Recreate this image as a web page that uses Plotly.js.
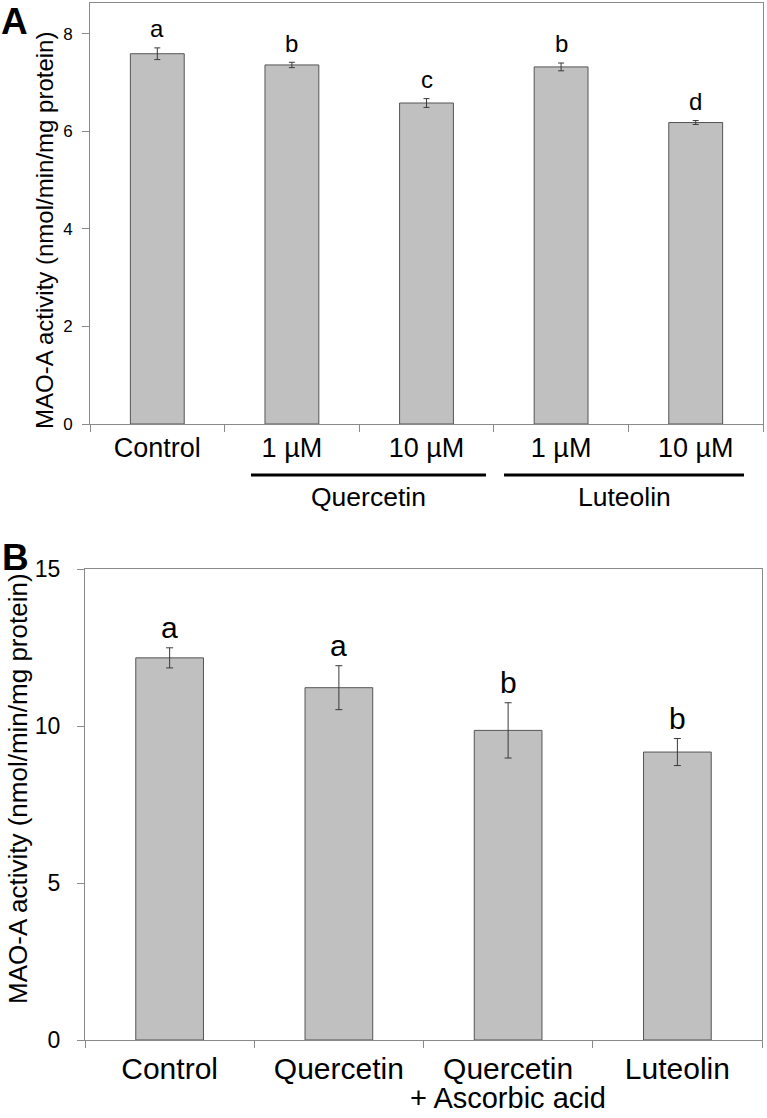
<!DOCTYPE html>
<html>
<head>
<meta charset="utf-8">
<script src="https://cdn.plot.ly/plotly-3.0.1.min.js"></script>
<style>html,body{margin:0;padding:0;background:#fff;}#chart{width:767px;height:1118px;}</style>
</head>
<body>
<div id="chart"></div>
<script>
// ---- Panel A data ----
const categoriesA = ['Control', 'Q1', 'Q10', 'L1', 'L10'];
const tickLabelsA = ['Control', '1 µM', '10 µM', '1 µM', '10 µM'];
const valuesA = [7.59, 7.36, 6.58, 7.32, 6.18];
const errorsA = [0.12, 0.055, 0.09, 0.08, 0.04];
const lettersA = ['a', 'b', 'c', 'b', 'd'];
const groupLabelsA = ['Quercetin', 'Luteolin'];

// ---- Panel B data ----
const categoriesB = ['Control', 'Quercetin', 'Quercetin + Ascorbic acid', 'Luteolin'];
const tickLabelsB = ['Control', 'Quercetin', 'Quercetin', 'Luteolin'];
const subLabelsB = ['', '', '+ Ascorbic acid', ''];
const valuesB = [12.17, 11.22, 9.86, 9.17];
const errorsB = [0.32, 0.70, 0.88, 0.43];
const lettersB = ['a', 'a', 'b', 'b'];

const yTitle = 'MAO-A activity (nmol/min/mg protein)';

const W = 767, H = 1118;
const px = v => v / W;
const py = v => 1 - v / H;
const FONT = 'Liberation Sans, Arial, sans-serif';

const barStyle = {color: '#c0c0c0', line: {color: '#555555', width: 1}};

const traceA = {
  type: 'bar', x: categoriesA, y: valuesA, width: 0.4,
  marker: barStyle, xaxis: 'x', yaxis: 'y',
  error_y: {type: 'data', array: errorsA, visible: true, color: '#3a3a3a', thickness: 1, width: 3},
  hoverinfo: 'none', showlegend: false
};
const traceB = {
  type: 'bar', x: categoriesB, y: valuesB, width: 0.4,
  marker: barStyle, xaxis: 'x2', yaxis: 'y2',
  error_y: {type: 'data', array: errorsB, visible: true, color: '#3a3a3a', thickness: 1, width: 3.5},
  hoverinfo: 'none', showlegend: false
};

const axisCommon = {
  showline: true, linecolor: '#8a8a8a', linewidth: 1, mirror: true,
  ticks: 'outside', ticklen: 7, tickcolor: '#8a8a8a', tickwidth: 1,
  showgrid: false, zeroline: false, fixedrange: true,
  tickfont: {family: FONT, color: '#000'}
};

const annotations = [];
categoriesA.forEach((c, i) => {
  annotations.push({xref: 'x', yref: 'y', x: c, y: valuesA[i] + errorsA[i], text: lettersA[i],
    showarrow: false, yanchor: 'middle', yshift: 19, font: {family: FONT, size: 24, color: '#000'}});
});
categoriesB.forEach((c, i) => {
  annotations.push({xref: 'x2', yref: 'y2', x: c, y: valuesB[i] + errorsB[i], text: lettersB[i],
    showarrow: false, yanchor: 'middle', yshift: 20, font: {family: FONT, size: 30, color: '#000'}});
  if (subLabelsB[i]) {
    annotations.push({xref: 'x2', yref: 'paper', x: c, y: py(1098), text: subLabelsB[i],
      showarrow: false, xanchor: 'center', yanchor: 'middle', font: {family: FONT, size: 29, color: '#000'}});
  }
});
// group labels under panel A
annotations.push({xref: 'x', yref: 'paper', x: 1.569, y: py(497), text: groupLabelsA[0], showarrow: false,
  xanchor: 'center', yanchor: 'middle', font: {family: FONT, size: 26.5, color: '#000'}});
annotations.push({xref: 'x', yref: 'paper', x: 3.47, y: py(497), text: groupLabelsA[1], showarrow: false,
  xanchor: 'center', yanchor: 'middle', font: {family: FONT, size: 26.5, color: '#000'}});
// y titles
annotations.push({xref: 'paper', yref: 'paper', x: px(45), y: py(231), text: yTitle, textangle: -90,
  showarrow: false, xanchor: 'center', yanchor: 'middle', font: {family: FONT, size: 24, color: '#000'}});
annotations.push({xref: 'paper', yref: 'paper', x: px(18), y: py(789), text: yTitle, textangle: -90,
  showarrow: false, xanchor: 'center', yanchor: 'middle', font: {family: FONT, size: 26, color: '#000'}});
// panel letters
annotations.push({xref: 'paper', yref: 'paper', x: 0, y: 1, text: '<b>A</b>', showarrow: false,
  xanchor: 'left', yanchor: 'top', borderpad: 0, font: {family: FONT, size: 37, color: '#000'}});
annotations.push({xref: 'paper', yref: 'paper', x: 0, y: py(557), text: '<b>B</b>', showarrow: false,
  xanchor: 'left', yanchor: 'middle', font: {family: FONT, size: 37, color: '#000'}});

const shapes = [
  {type: 'line', xref: 'x', yref: 'paper', x0: 0.696, x1: 2.442, y0: py(475), y1: py(475), line: {color: '#000', width: 3}},
  {type: 'line', xref: 'x', yref: 'paper', x0: 2.576, x1: 4.359, y0: py(475), y1: py(475), line: {color: '#000', width: 3}}
];

const layout = {
  width: W, height: H,
  margin: {l: 0, r: 0, t: 0, b: 0},
  paper_bgcolor: '#fff', plot_bgcolor: '#fff',
  showlegend: false,
  font: {family: FONT, color: '#000'},
  xaxis: Object.assign({}, axisCommon, {
    domain: [px(90), px(763)], anchor: 'y', type: 'category',
    categoryorder: 'array', categoryarray: categoriesA,
    tickmode: 'array', tickvals: categoriesA, ticktext: tickLabelsA,
    tickson: 'boundaries', range: [-0.5, 4.5], tickangle: 0,
    tickfont: {family: FONT, size: 27, color: '#000'}
  }),
  yaxis: Object.assign({}, axisCommon, {
    domain: [py(424), py(3)], anchor: 'x', range: [0, 8.63],
    tickmode: 'linear', tick0: 0, dtick: 2, ticklabelstandoff: 6,
    tickfont: {family: FONT, size: 17, color: '#000'}
  }),
  xaxis2: Object.assign({}, axisCommon, {
    domain: [px(85), px(762)], anchor: 'y2', type: 'category',
    categoryorder: 'array', categoryarray: categoriesB,
    tickmode: 'array', tickvals: categoriesB, ticktext: tickLabelsB,
    tickson: 'boundaries', range: [-0.5, 3.5], tickangle: 0,
    ticklabelstandoff: 2,
    tickfont: {family: FONT, size: 30, color: '#000'}
  }),
  yaxis2: Object.assign({}, axisCommon, {
    domain: [py(1040), py(569)], anchor: 'x2', range: [0, 15],
    tickmode: 'linear', tick0: 0, dtick: 5, ticklabelstandoff: 12,
    tickfont: {family: FONT, size: 23, color: '#000'}
  }),
  annotations: annotations,
  shapes: shapes
};

Plotly.newPlot('chart', [traceA, traceB], layout, {displayModeBar: false, staticPlot: true});
</script>
</body>
</html>
